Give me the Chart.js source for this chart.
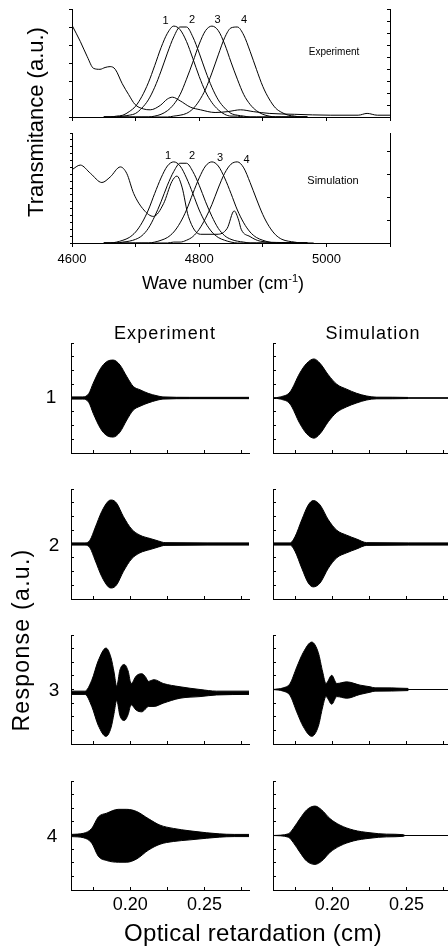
<!DOCTYPE html>
<html>
<head>
<meta charset="utf-8">
<script src="https://cdn.jsdelivr.net/npm/chart.js@4.4.1/dist/chart.umd.min.js"></script>
<style>
  html, body { margin: 0; padding: 0; background: #fff; overflow: hidden; }
  #fig { position: relative; width: 448px; height: 949px; overflow: hidden; background: #fff;
         font-family: "Liberation Sans", Arial, sans-serif; color: #000; }
  canvas { position: absolute; }
  .lbl { position: absolute; white-space: nowrap; line-height: 1; transform: translate(-50%, -50%); }
  .rot { transform: translate(-50%, -50%) rotate(-90deg); }
</style>
</head>
<body>
<div id="fig"></div>
<script>
// ---- transmission spectra (top) ----
const waveGrid = [4650, 4660, 4670, 4680, 4690, 4700, 4710, 4720, 4730, 4740, 4750, 4760, 4770, 4780, 4790, 4800, 4810,
  4820, 4830, 4840, 4850, 4860, 4870, 4880, 4890, 4900, 4910, 4920, 4930, 4940, 4950, 4960, 4970];
const waveTicks = [4600, 4800, 5000];
const bandNames = ['1', '2', '3', '4'];

const expBand1 = [0, 0, 0.01, 0.02, 0.06, 0.12, 0.23, 0.38, 0.57, 0.77, 0.93, 1.01, 0.97, 0.84, 0.65, 0.45, 0.28, 0.16, 0.08, 0.03, 0.01, 0.01, 0, 0, 0, 0, 0, 0, 0, 0, 0, 0, 0];
const expBand2 = [0, 0, 0, 0.01, 0.02, 0.04, 0.10, 0.19, 0.33, 0.51, 0.71, 0.89, 1.0, 1.0, 0.89, 0.71, 0.51, 0.33, 0.19, 0.10, 0.04, 0.02, 0.01, 0, 0, 0, 0, 0, 0, 0, 0, 0, 0];
const expBand3 = [0, 0, 0, 0, 0, 0, 0, 0, 0.01, 0.03, 0.07, 0.14, 0.25, 0.42, 0.61, 0.81, 0.96, 1.01, 0.96, 0.81, 0.61, 0.42, 0.25, 0.14, 0.07, 0.03, 0.01, 0, 0, 0, 0, 0, 0];
const expBand4 = [0, 0, 0, 0, 0, 0, 0, 0, 0, 0, 0, 0.01, 0.02, 0.04, 0.09, 0.18, 0.31, 0.49, 0.69, 0.88, 0.99, 1.0, 0.91, 0.73, 0.53, 0.34, 0.20, 0.10, 0.05, 0.02, 0.01, 0, 0];
const expTotalX = [4600, 4613, 4624, 4634, 4644, 4652, 4660, 4668, 4679, 4689, 4699, 4712, 4723, 4739, 4750, 4758, 4770, 4786, 4802, 4825, 4845, 4865, 4885, 4910, 4950, 5006, 5050, 5064, 5080, 5100];
const expTotalY = [1.02, 0.84, 0.67, 0.54, 0.53, 0.55, 0.56, 0.53, 0.37, 0.25, 0.14, 0.09, 0.08, 0.13, 0.20, 0.22, 0.18, 0.11, 0.08, 0.05, 0.06, 0.08, 0.06, 0.04, 0.03, 0.02, 0.02, 0.04, 0.02, 0.02];

const simBand1 = [0, 0, 0.01, 0.03, 0.06, 0.12, 0.22, 0.36, 0.54, 0.71, 0.84, 0.885, 0.84, 0.71, 0.54, 0.36, 0.22, 0.12, 0.06, 0.03, 0.01, 0, 0, 0, 0, 0, 0, 0, 0, 0, 0, 0, 0];
const simBand2 = [0, 0, 0, 0.01, 0.02, 0.04, 0.08, 0.16, 0.29, 0.45, 0.63, 0.78, 0.87, 0.87, 0.78, 0.63, 0.45, 0.29, 0.16, 0.08, 0.04, 0.02, 0.01, 0, 0, 0, 0, 0, 0, 0, 0, 0, 0];
const simBand3 = [0, 0, 0, 0, 0, 0, 0, 0, 0.01, 0.03, 0.06, 0.12, 0.22, 0.36, 0.54, 0.71, 0.84, 0.885, 0.84, 0.71, 0.54, 0.36, 0.22, 0.12, 0.06, 0.03, 0.01, 0, 0, 0, 0, 0, 0];
const simBand4 = [0, 0, 0, 0, 0, 0, 0, 0, 0, 0, 0, 0.01, 0.01, 0.03, 0.07, 0.15, 0.27, 0.42, 0.60, 0.76, 0.86, 0.885, 0.82, 0.66, 0.48, 0.31, 0.18, 0.09, 0.04, 0.02, 0.01, 0, 0];
const simTotalX = [4600, 4613, 4629, 4647, 4660, 4676, 4686, 4697, 4713, 4728, 4744, 4757, 4765, 4773, 4783, 4802, 4828, 4844, 4855, 4862, 4866, 4880, 4896, 4930, 4980];
const simTotalY = [0.80, 0.85, 0.76, 0.66, 0.72, 0.83, 0.76, 0.54, 0.36, 0.29, 0.43, 0.67, 0.73, 0.61, 0.29, 0.095, 0.095, 0.16, 0.35, 0.25, 0.15, 0.07, 0.02, 0.005, 0];

// ---- interferogram envelopes (bottom), optical retardation in cm ----
const retTicks = [0.20, 0.25];
const rowNames = ['1', '2', '3', '4'];

const retExp1X = [0.160, 0.168, 0.172, 0.175, 0.180, 0.184, 0.1885, 0.193, 0.1976, 0.202, 0.2065, 0.212, 0.218, 0.222, 0.240, 0.280];
const retExp1Up = [0.02, 0.02, 0.08, 0.27, 0.54, 0.66, 0.69, 0.60, 0.39, 0.21, 0.15, 0.085, 0.04, 0.02, 0.012, 0.012];
const retExp1Lo = [-0.02, -0.02, -0.08, -0.28, -0.56, -0.68, -0.71, -0.62, -0.40, -0.22, -0.15, -0.09, -0.04, -0.02, -0.012, -0.012];
const retSim1X = [0.160, 0.165, 0.1715, 0.178, 0.1827, 0.1876, 0.1917, 0.1973, 0.203, 0.2097, 0.2164, 0.2232, 0.230, 0.251, 0.2515, 0.280];
const retSim1Up = [0, 0.02, 0.11, 0.45, 0.63, 0.71, 0.63, 0.42, 0.25, 0.16, 0.085, 0.036, 0.015, 0.01, 0, 0];
const retSim1Lo = [0, -0.02, -0.11, -0.46, -0.65, -0.73, -0.65, -0.43, -0.26, -0.16, -0.09, -0.036, -0.015, -0.01, 0, 0];

const retExp2X = [0.160, 0.1694, 0.1728, 0.1762, 0.1807, 0.1852, 0.1874, 0.1908, 0.1953, 0.2009, 0.2065, 0.2133, 0.2189, 0.2234, 0.280];
const retExp2Up = [0.02, 0.02, 0.07, 0.29, 0.59, 0.78, 0.80, 0.74, 0.50, 0.27, 0.16, 0.10, 0.055, 0.025, 0.02];
const retExp2Lo = [-0.02, -0.02, -0.07, -0.29, -0.59, -0.78, -0.80, -0.74, -0.50, -0.27, -0.16, -0.10, -0.055, -0.025, -0.02];
const retSim2X = [0.160, 0.1715, 0.1748, 0.1794, 0.1838, 0.1872, 0.1917, 0.1973, 0.203, 0.2097, 0.2164, 0.2232, 0.280];
const retSim2Up = [0.02, 0.02, 0.13, 0.44, 0.71, 0.79, 0.71, 0.44, 0.25, 0.16, 0.09, 0.025, 0.02];
const retSim2Lo = [-0.02, -0.02, -0.13, -0.44, -0.71, -0.78, -0.71, -0.44, -0.25, -0.16, -0.09, -0.025, -0.02];

const retExp3X = [0.160, 0.1694, 0.174, 0.1784, 0.1836, 0.187, 0.189, 0.1908, 0.193, 0.1959, 0.1985, 0.2005, 0.204, 0.2077, 0.2105, 0.2121, 0.216, 0.2222, 0.2335, 0.247, 0.2582, 0.280];
const retExp3Up = [0.03, 0.03, 0.23, 0.59, 0.82, 0.64, 0.38, 0.12, 0.42, 0.52, 0.40, 0.17, 0.31, 0.35, 0.28, 0.21, 0.24, 0.17, 0.11, 0.06, 0.03, 0.03];
const retExp3Lo = [-0.03, -0.03, -0.25, -0.60, -0.80, -0.64, -0.38, -0.14, -0.42, -0.51, -0.40, -0.22, -0.32, -0.35, -0.29, -0.25, -0.25, -0.19, -0.10, -0.07, -0.04, -0.03];
const retSim3X = [0.160, 0.1669, 0.1715, 0.176, 0.1804, 0.1861, 0.1905, 0.1935, 0.1957, 0.1996, 0.203, 0.2097, 0.2187, 0.2254, 0.2288, 0.251, 0.2515, 0.280];
const retSim3Up = [0, 0.03, 0.11, 0.41, 0.68, 0.87, 0.68, 0.32, 0.11, 0.26, 0.11, 0.14, 0.08, 0.05, 0.03, 0.02, 0, 0];
const retSim3Lo = [0, -0.03, -0.11, -0.41, -0.68, -0.86, -0.68, -0.32, -0.13, -0.27, -0.13, -0.16, -0.09, -0.05, -0.03, -0.02, 0, 0];

const retExp4X = [0.160, 0.1683, 0.174, 0.1784, 0.1841, 0.1919, 0.1976, 0.2043, 0.2121, 0.220, 0.229, 0.2402, 0.2515, 0.260, 0.270, 0.280];
const retExp4Up = [0.02, 0.04, 0.13, 0.34, 0.41, 0.48, 0.48, 0.44, 0.31, 0.19, 0.13, 0.085, 0.05, 0.03, 0.02, 0.02];
const retExp4Lo = [-0.02, -0.04, -0.14, -0.38, -0.46, -0.49, -0.49, -0.43, -0.27, -0.16, -0.11, -0.08, -0.05, -0.03, -0.02, -0.02];
const retSim4X = [0.160, 0.1703, 0.1737, 0.1782, 0.1827, 0.1883, 0.1928, 0.1984, 0.2052, 0.2142, 0.2254, 0.2365, 0.2479, 0.249, 0.280];
const retSim4Up = [0, 0.03, 0.13, 0.31, 0.47, 0.54, 0.47, 0.31, 0.19, 0.10, 0.05, 0.025, 0.015, 0, 0];
const retSim4Lo = [0, -0.03, -0.13, -0.31, -0.47, -0.53, -0.47, -0.31, -0.19, -0.10, -0.05, -0.025, -0.015, 0, 0];

/* layout */
const fig = document.getElementById('fig');
const black = '#000';
const FONT = '"Liberation Sans", Arial, sans-serif';
const PAD = 30;

function pts(xs, ys) {
  return xs.map((x, i) => ({ x: x, y: ys[i] }));
}

function line(xs, ys, extra) {
  return Object.assign({
    data: pts(xs, ys), borderColor: black, backgroundColor: black, borderWidth: 1,
    pointRadius: 0, fill: false, tension: 0.4, cubicInterpolationMode: 'monotone'
  }, extra || {});
}

// axis taking no layout space (labelled x axes take the bottom pad); negative tick = inside
function axis(pos, min, max, step, tick, lab) {
  return {
    type: 'linear', position: pos, min: min, max: max,
    border: { display: true, color: black, width: 1 },
    grid: { display: true, drawOnChartArea: false, drawTicks: true, tickLength: tick, color: black, lineWidth: 1 },
    ticks: {
      display: !!lab, stepSize: step, includeBounds: false, autoSkip: false, maxRotation: 0,
      color: black, padding: lab ? lab.pad : 3,
      font: { family: FONT, size: lab ? lab.size : 10 },
      callback: v => (lab && lab.values.some(t => Math.abs(t - v) < 1e-6)) ? v.toFixed(lab.digits) : ''
    },
    afterFit: s => { if (s.isHorizontal()) s.height = lab ? PAD : 0; else s.width = 0; }
  };
}

function panel(box, datasets, scales, labelled) {
  const c = document.createElement('canvas');
  c.width = box.w + 2 * PAD;
  c.height = box.h + 2 * PAD;
  c.style.left = (box.x - PAD) + 'px';
  c.style.top = (box.y - PAD) + 'px';
  fig.appendChild(c);
  return new Chart(c, {
    type: 'line',
    data: { datasets: datasets },
    options: {
      responsive: false, animation: false, events: [],
      layout: { padding: { left: PAD, right: PAD, top: PAD, bottom: labelled ? 0 : PAD } },
      plugins: { legend: { display: false }, tooltip: { enabled: false } },
      scales: scales
    }
  });
}

function text(html, x, y, size, opt) {
  const d = document.createElement('div');
  d.className = 'lbl' + (opt && opt.rot ? ' rot' : '');
  d.style.left = x + 'px';
  d.style.top = y + 'px';
  d.style.fontSize = size + 'px';
  if (opt && opt.ls) d.style.letterSpacing = opt.ls + 'px';
  d.innerHTML = html;
  fig.appendChild(d);
}

// top: experiment transmission
panel({ x: 72, y: 9, w: 318, h: 108 }, [
  line(expTotalX, expTotalY),
  line(waveGrid, expBand1), line(waveGrid, expBand2), line(waveGrid, expBand3), line(waveGrid, expBand4)
], {
  x: axis('bottom', 4600, 5100, 100, 4, null),
  y: axis('left', 0, 1.2, 0.2, 3, null),
  y2: axis('right', 0, 9, 1, -3, null)
}, false);

// top: simulation transmission
panel({ x: 72, y: 133, w: 318, h: 110 }, [
  line(simTotalX, simTotalY),
  line(waveGrid, simBand1), line(waveGrid, simBand2), line(waveGrid, simBand3), line(waveGrid, simBand4)
], {
  x: axis('bottom', 4600, 5100, 100, 4, { values: waveTicks, size: 13, pad: 5, digits: 0 }),
  y: axis('left', 0, 1.2, 0.075, 2, null),
  y2: axis('right', 0, 4.8, 1, -3, null)
}, true);

// interferograms
const retSets = [
  [retExp1X, retExp1Up, retExp1Lo, retSim1X, retSim1Up, retSim1Lo],
  [retExp2X, retExp2Up, retExp2Lo, retSim2X, retSim2Up, retSim2Lo],
  [retExp3X, retExp3Up, retExp3Lo, retSim3X, retSim3Up, retSim3Lo],
  [retExp4X, retExp4Up, retExp4Lo, retSim4X, retSim4Up, retSim4Lo]
];
const rowTop = [343, 489, 635, 781];
const rowH = [110, 110, 109, 109];
const colLeft = [71, 273];
const expYRange = [[-1, 1], [-1, 1], [-0.94, 1.06], [-1, 1]];

retSets.forEach((s, r) => {
  for (let c = 0; c < 2; c++) {
    const xs = s[c * 3], up = s[c * 3 + 1], lo = s[c * 3 + 2];
    const yr = c === 0 ? expYRange[r] : [-1, 1];
    const lab = r === 3 ? { values: retTicks, size: 18, pad: 7, digits: 2 } : null;
    panel({ x: colLeft[c], y: rowTop[r], w: 178, h: rowH[r] }, [
      line(xs, up, { fill: '+1', tension: 0.3 }),
      line(xs, lo, { tension: 0.3 }),
      line([0.16, 0.28], [0, 0], { tension: 0 })
    ], {
      x: axis('bottom', 0.16, 0.28, 0.025, -3, lab),
      y: axis('left', yr[0], yr[1], 0.25, -3, null)
    }, !!lab);
  }
});

// texts
text('Transmitance (a.u.)', 36, 122, 22, { rot: true });
text('Wave number (cm<span style="font-size:11px;position:relative;top:-7px">-1</span>)', 223, 283, 18);
text('Experiment', 334, 52, 10);
text('Simulation', 333, 180, 11);
const expBandPos = [[165.5, 19.5], [192, 18.5], [217.5, 19], [244, 19]];
const simBandPos = [[168, 155], [192, 155], [220, 156.5], [246.5, 159]];
bandNames.forEach((n, i) => {
  text(n, expBandPos[i][0], expBandPos[i][1], 11);
  text(n, simBandPos[i][0], simBandPos[i][1], 11);
});
text('Experiment', 165, 333, 18, { ls: 1.1 });
text('Simulation', 373, 333, 18, { ls: 1.1 });
const rowLabelPos = [[51, 396], [54, 544], [54, 689], [52, 835]];
rowNames.forEach((n, i) => text(n, rowLabelPos[i][0], rowLabelPos[i][1], 19));
text('Response (a.u.)', 21, 640, 23, { rot: true, ls: 1.3 });
text('Optical retardation (cm)', 253, 933, 24, { ls: 0.3 });
</script>
</body>
</html>
